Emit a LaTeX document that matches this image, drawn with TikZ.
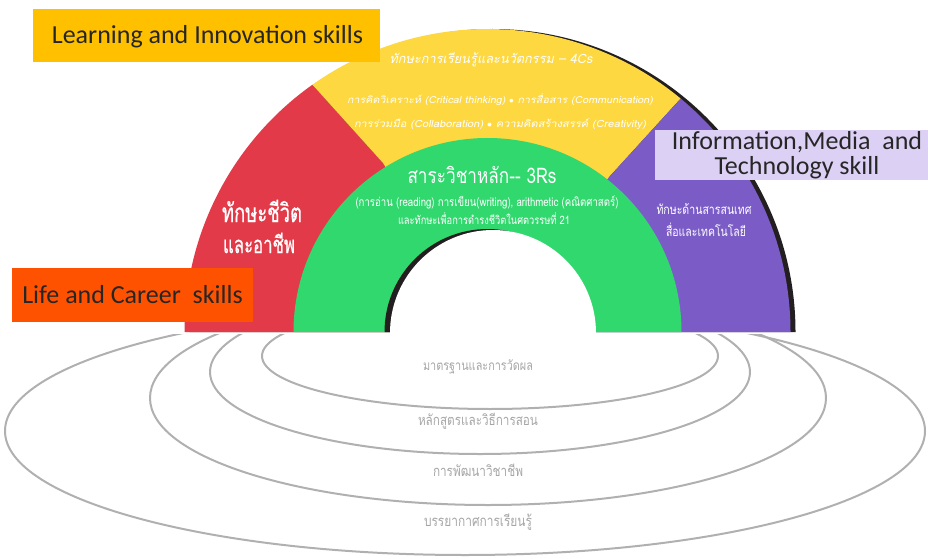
\documentclass[tikz,border=0pt]{standalone}
\usepackage{fontspec}
\usepackage{graphicx}
\setmainfont{Carlito}
\newfontfamily\thai[Script=Thai,FakeStretch=0.8]{Loma}
\newfontfamily\thaitall[Script=Thai,FakeStretch=0.7,FakeBold=0.6]{Loma}
\newfontfamily\thaiit[Script=Thai,FakeStretch=1.0,FakeSlant=0.2]{Loma}
\newfontfamily\thaiitw[Script=Thai,FakeStretch=1.12,FakeSlant=0.2]{Loma}
\definecolor{redc}{HTML}{E23A48}
\definecolor{yelc}{HTML}{FDD841}
\definecolor{grnc}{HTML}{31D86E}
\definecolor{purc}{HTML}{7B5CC6}
\definecolor{shad}{HTML}{231F20}
\definecolor{goldbox}{HTML}{FFC000}
\definecolor{lavbox}{HTML}{DDD0F5}
\definecolor{orabox}{HTML}{FF5200}
\definecolor{ringc}{HTML}{B0B0B0}
\definecolor{ringt}{HTML}{A6A6A6}
\newcommand{\fitw}[2]{\resizebox{#1}{!}{#2}}
\begin{document}
\begin{tikzpicture}[x=1pt,y=1pt,
  ring/.style={draw=ringc,line width=2pt},
  wtext/.style={text=white,inner sep=0pt,anchor=center},
  gtext/.style={text=ringt,inner sep=0pt,anchor=center},
  labelbox/.style={inner sep=0pt,text=black!85,font=\fontsize{26}{25}\selectfont,align=center}]
\useasboundingbox (0,0) rectangle (928,558);
% rings
\begin{scope}
\clip (0,0) rectangle (928,224);
\draw[ring] (490,202) ellipse [x radius=228, y radius=53];
\draw[ring] (480,186) ellipse [x radius=270, y radius=82];
\draw[ring] (488,160) ellipse [x radius=338, y radius=107];
\draw[ring] (465,127) ellipse [x radius=460, y radius=124];
\end{scope}
\node[gtext] (r1) at (478,191) {\fitw{110pt}{\thai มาตรฐานและการวัดผล}};
\node[gtext] (r2) at (478,137) {\fitw{120pt}{\thai หลักสูตรและวิธีการสอน}};
\node[gtext] (r3) at (478,88) {\fitw{90pt}{\thai การพัฒนาวิชาชีพ}};
\node[gtext] (r4) at (478,36) {\fitw{108pt}{\thai บรรยากาศการเรียนรู้}};
% arch
\coordinate (C) at (487.5,226);
\coordinate (P1i) at (383,395);
\coordinate (P2i) at (610,382);
\fill[shad] (795.5,226) arc[start angle=0,end angle=180,radius=303] -- cycle;
\fill[redc] (184.5,226) arc[start angle=180,end angle=125.3,radius=303] coordinate (P1o) -- (P1i) -- (C) -- cycle;
\fill[yelc] (P1o) arc[start angle=125.3,end angle=50.4,radius=303] coordinate (P2o) -- (P2i) -- (C) -- (P1i) -- cycle;
\fill[purc] (P2o) arc[start angle=50.4,end angle=0,radius=303] -- (C) -- (P2i) -- cycle;
\fill[grnc] (681.5,226) arc[start angle=0,end angle=180,radius=194] -- cycle;
\fill[shad] (590.5,226) arc[start angle=0,end angle=180,radius=103] -- cycle;
\fill[white] (596,225) arc[start angle=0,end angle=180,radius=103] -- cycle;
% yellow texts
\node[wtext] (y1) at (491,498) {\fitw{203pt}{\thaiit ทักษะการเรียนรู้และนวัตกรรม – 4Cs}};
\node[wtext] (y2) at (500,458) {\fitw{306pt}{\thaiitw การคิดวิเคราะห์ (Critical thinking) $\bullet$ การสื่อสาร (Communication)}};
\node[wtext] (y3) at (500,434) {\fitw{292pt}{\thaiitw การร่วมมือ (Collaboration) $\bullet$ ความคิดสร้างสรรค์ (Creativity)}};
% green texts
\node[wtext] (g1) at (482,383) {\fitw{149pt}{\thai สาระวิชาหลัก-{}- 3Rs}};
\node[wtext] (g2) at (487,356) {\fitw{263pt}{\thai (การอ่าน (reading) การเขียน(writing), arithmetic (คณิตศาสตร์)}};
\node[wtext] (g3) at (484,339) {\fitw{172pt}{\thai และทักษะเพื่อการดำรงชีวิตในศตวรรษที่ 21}};
% red texts
\node[wtext] (d1) at (262,347) {\fitw{80pt}{\thaitall ทักษะชีวิต}};
\node[wtext] (d2) at (259,315) {\fitw{72pt}{\thaitall และอาชีพ}};
% purple texts
\node[wtext] (p1) at (704,349) {\fitw{95pt}{\thai ทักษะด้านสารสนเทศ}};
\node[wtext] (p2) at (706,328) {\fitw{80pt}{\thai สื่อและเทคโนโลยี}};
% label boxes
\fill[goldbox] (33,496) rectangle (380,549);
\node[labelbox] (lbl1) at (207.5,521) {Learning and Innovation skills};
\fill[lavbox] (655,378) rectangle (928,428);
\node[labelbox] (lbl2) at (797,403) {Information,Media\ \ and\\Technology skill};
\fill[orabox] (12,236) rectangle (253,290);
\node[labelbox] (lbl3) at (132.5,263) {Life and Career\ \ skills};
\end{tikzpicture}
\end{document}
